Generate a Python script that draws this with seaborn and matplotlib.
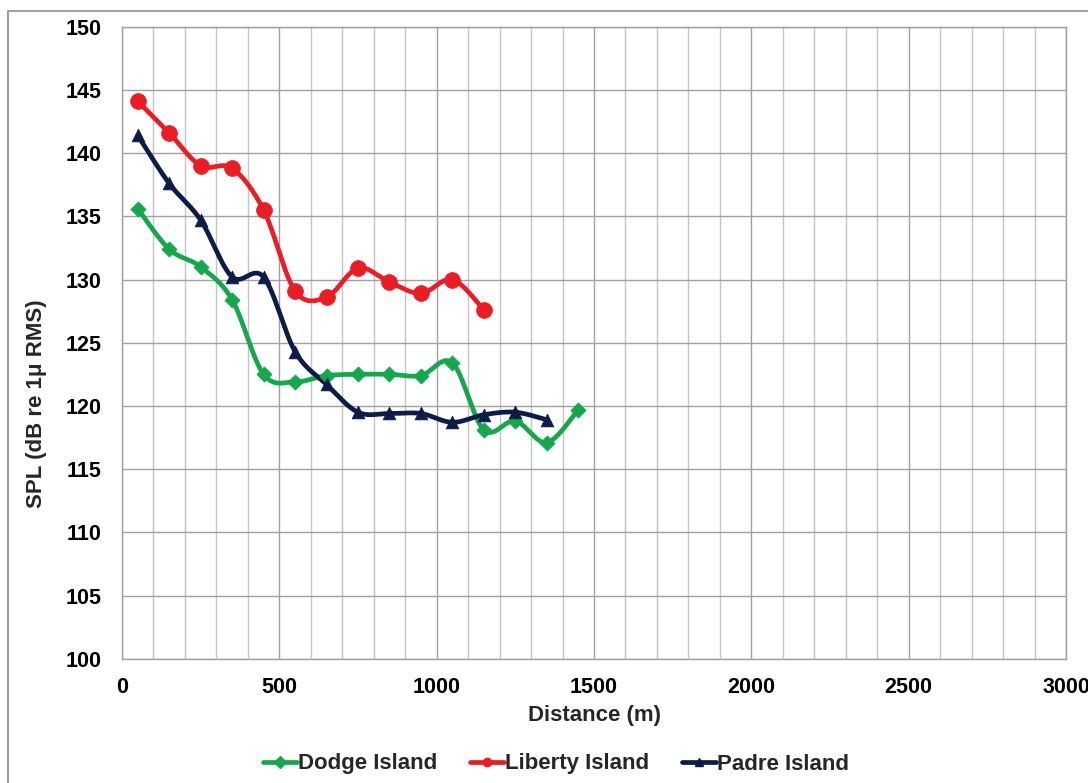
import numpy as np
import pandas as pd
import matplotlib
matplotlib.use("Agg")
import matplotlib.pyplot as plt
import seaborn as sns
from matplotlib.lines import Line2D
from matplotlib.patches import Rectangle

# ---- data ----
dodge_x = [50, 150, 250, 350, 450, 550, 650, 750, 850, 950, 1050, 1150, 1250, 1350, 1450]
dodge_y = [135.6, 132.4, 131.0, 128.4, 122.5, 121.9, 122.4, 122.5, 122.5, 122.4, 123.4, 118.1, 118.8, 117.1, 119.7]

liberty_x = [50, 150, 250, 350, 450, 550, 650, 750, 850, 950, 1050, 1150]
liberty_y = [144.1, 141.6, 139.0, 138.8, 135.5, 129.1, 128.6, 130.9, 129.8, 128.9, 130.0, 127.6]

padre_x = [50, 150, 250, 350, 450, 550, 650, 750, 850, 950, 1050, 1150, 1250, 1350]
padre_y = [141.4, 137.6, 134.7, 130.2, 130.2, 124.3, 121.7, 119.5, 119.4, 119.4, 118.7, 119.3, 119.5, 118.9]

series_names = ["Dodge Island", "Liberty Island", "Padre Island"]
x_ticks = [0, 500, 1000, 1500, 2000, 2500, 3000]
y_ticks = [100, 105, 110, 115, 120, 125, 130, 135, 140, 145, 150]

colors = {"Dodge Island": "#13a84b", "Liberty Island": "#ec1c24", "Padre Island": "#0c1c48"}
markers = {"Dodge Island": "D", "Liberty Island": "o", "Padre Island": "^"}
msizes = {"Dodge Island": 60, "Liberty Island": 130, "Padre Island": 85}

sns.set_style("white")
plt.rcParams["font.family"] = ["Liberation Sans", "DejaVu Sans"]
plt.rcParams["font.weight"] = "bold"


def smooth(x, y, n=40):
    """Excel-like smoothed line (Bezier segments, Catmull-Rom control points)."""
    pts = np.column_stack([x, y]).astype(float)
    P = np.vstack([pts[0], pts, pts[-1]])
    out = []
    t = np.linspace(0, 1, n)[:, None]
    for i in range(1, len(P) - 2):
        p0, p1, p2, p3 = P[i - 1], P[i], P[i + 1], P[i + 2]
        c1 = p1 + (p2 - p0) / 6.0
        c2 = p2 - (p3 - p1) / 6.0
        seg = (1 - t) ** 3 * p1 + 3 * (1 - t) ** 2 * t * c1 + 3 * (1 - t) * t ** 2 * c2 + t ** 3 * p2
        out.append(seg if i == 1 else seg[1:])
    return np.vstack(out)


fig = plt.figure(figsize=(10.88, 7.83), dpi=100)
ax = fig.add_axes([122 / 1088, 1 - 658.7 / 783, (1066 - 122) / 1088, (658.7 - 26.7) / 783])

data = {
    "Dodge Island": (dodge_x, dodge_y),
    "Liberty Island": (liberty_x, liberty_y),
    "Padre Island": (padre_x, padre_y),
}

for name in series_names:
    xs, ys = data[name]
    sm = smooth(xs, ys)
    df_s = pd.DataFrame({"x": sm[:, 0], "y": sm[:, 1]})
    sns.lineplot(data=df_s, x="x", y="y", sort=False, estimator=None, ax=ax,
                 color=colors[name], linewidth=3.4, zorder=3)
    df_p = pd.DataFrame({"x": xs, "y": ys})
    sns.scatterplot(data=df_p, x="x", y="y", ax=ax, marker=markers[name],
                    s=msizes[name], color=colors[name], edgecolor=colors[name],
                    linewidth=0.5, zorder=4)

ax.set_xlim(0, 3000)
ax.set_ylim(100, 150)
ax.set_xticks(x_ticks)
ax.set_yticks(y_ticks)
ax.set_xticks(np.arange(0, 3001, 100), minor=True)
ax.grid(True, which="major", axis="both", color="#a0a0a0", linewidth=1.0, zorder=0)
ax.grid(True, which="minor", axis="x", color="#c4c4c4", linewidth=1.0, zorder=0)
ax.set_axisbelow(True)
for s in ax.spines.values():
    s.set_color("#a0a0a0")
    s.set_linewidth(1.0)

ax.tick_params(axis="both", which="major", labelsize=15.5, length=5, width=1,
               color="#a0a0a0", direction="out", labelcolor="black")
ax.tick_params(axis="x", which="major", pad=8)
ax.tick_params(axis="y", which="major", pad=10)
ax.tick_params(axis="x", which="minor", length=0)
for lab in ax.get_xticklabels() + ax.get_yticklabels():
    lab.set_fontweight("bold")

ax.set_xlabel("")
ax.set_ylabel("")
fig.text(594 / 1088, 1 - 716 / 783, "Distance (m)", ha="center", va="center",
         fontsize=16, fontweight="bold")
fig.text(37 / 1088, 1 - 404 / 783, "SPL (dB re 1\u03bc RMS)", ha="center", va="center",
         rotation=90, fontsize=16, fontweight="bold")

handles = [Line2D([0], [0], color=colors[n], linewidth=3.4, marker=markers[n],
                  markersize=6, markerfacecolor=colors[n], markeredgecolor=colors[n])
           for n in series_names]
fig.legend(handles, series_names, loc="center", bbox_to_anchor=(556 / 1088, 1 - 764 / 783),
           ncol=3, frameon=False, prop={"weight": "bold", "size": 16},
           handlelength=1.5, handletextpad=0.05, columnspacing=1.5)

# outer chart border (clipped by the image edges on right and bottom)
fig.patches.append(Rectangle((8 / 1088, -0.05), 1.1, 1 - 11 / 783 + 0.05,
                             transform=fig.transFigure, fill=False,
                             edgecolor="#a0a0a0", linewidth=1.5, zorder=0))

fig.savefig("out.png", dpi=100)
